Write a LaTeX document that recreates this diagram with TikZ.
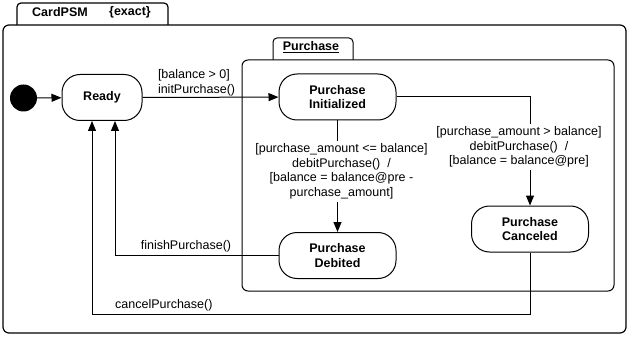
\documentclass[tikz,border=0pt]{standalone}
\usepackage{fontspec}
\setmainfont{Liberation Sans}
\usetikzlibrary{arrows.meta}

\begin{document}
\begin{tikzpicture}[x=1pt,y=-1pt,
    every node/.style={font=\fontsize{12.5}{14.5}\selectfont},
    bold/.style={font=\fontsize{12.5}{14.5}\selectfont\bfseries},
    state/.style={draw,line width=1pt,rounded corners=18pt,minimum width=117pt,
        minimum height=46pt,align=center,bold},
    trans/.style={line width=1pt,-{Triangle[length=10pt,width=8pt]}},
    guard/.style={align=center,fill=white,inner sep=3pt}]
    \useasboundingbox (0,0) rectangle (629,342);

    % Outer state machine with its tab
    \draw[line width=1.2pt,rounded corners=4pt] (17,25) -- (17,3) -- (168,3) -- (168,25);
    \draw[line width=1.2pt,rounded corners=6pt] (3,25) rectangle (626,333);
    \node[bold] (machine) at (60,12) {CardPSM};
    \node[bold] (exact) at (130,12) {\{exact\}};

    % Composite state Purchase
    \draw[line width=1pt,rounded corners=4pt] (273,60) -- (273,38) -- (353,38) -- (353,60);
    \draw[line width=1pt,rounded corners=6pt] (242,60) rectangle (614,291);
    \node[bold] (purchase) at (311,47) {\underline{Purchase}};

    % States
    \node[circle,fill,minimum size=27pt,inner sep=0pt] (start) at (23.5,98) {};
    \node[state,minimum width=80pt] (ready) at (102,97.5) {Ready};
    \node[state] (init) at (337.5,97) {Purchase\\Initialized};
    \node[state] (debited) at (337.5,255.5) {Purchase\\Debited};
    \node[state] (canceled) at (530,229) {Purchase\\Canceled};

    % Transitions
    \draw[trans] (start) -- (ready);
    \draw[trans] (ready) -- node[pos=0,anchor=south west,align=left,inner sep=1pt,xshift=14pt]
        {[balance > 0]\\initPurchase()} (init);
    \draw[trans] (init) -- node[guard,pos=0.455,xshift=4pt]
        {[purchase\_amount <= balance]\\debitPurchase()~~/\\{}[balance = balance@pre -\\purchase\_amount]} (debited);
    \draw[trans] (init) -| node[guard,pos=0.73,xshift=-11pt]
        {[purchase\_amount > balance]\\debitPurchase()~~/\\{}[balance = balance@pre]} (canceled);
    \draw[trans] (debited) -| node[pos=0.283,above] {finishPurchase()} ([xshift=13pt]ready.south);
    \draw[trans] (canceled.south) -- ++(0,62) -| node[pos=0.418,above] {cancelPurchase()}
        ([xshift=-10pt]ready.south);
\end{tikzpicture}
\end{document}
